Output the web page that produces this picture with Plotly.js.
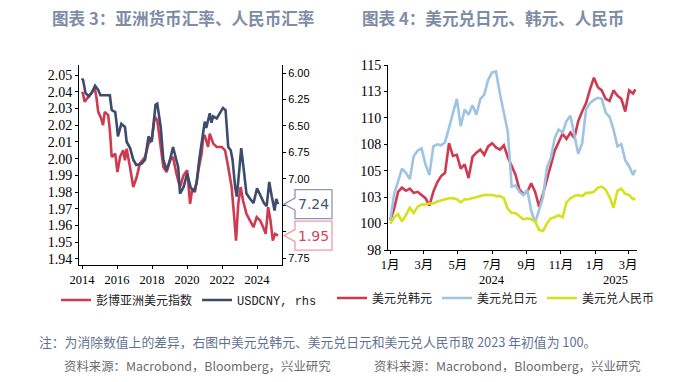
<!DOCTYPE html>
<html><head><meta charset="utf-8">
<script src="https://cdn.plot.ly/plotly-3.0.1.min.js"></script>
<style>html,body{margin:0;padding:0;background:#fff;}#chart{width:679px;height:382px;}</style>
</head><body><div id="chart"></div>
<script>
// ---------- Left chart data ----------
const asiaDates = ['2014-01-01','2014-01-20','2014-02-25','2014-04-15','2014-07-15','2014-09-25','2014-11-01','2014-12-05','2015-02-05','2015-03-15','2015-04-20','2015-07-01','2015-08-08','2015-09-12','2015-11-25','2016-01-10','2016-03-05','2016-05-10','2016-06-15','2016-07-20','2016-09-28','2016-12-05','2017-02-15','2017-04-20','2017-08-08','2017-10-20','2017-12-25','2018-03-01','2018-04-20','2018-06-15','2018-08-25','2018-11-01','2019-01-12','2019-03-15','2019-05-25','2019-08-08','2019-10-20','2020-01-05','2020-03-05','2020-04-20','2020-06-15','2020-08-25','2020-11-01','2020-12-05','2021-01-05','2021-03-15','2021-04-20','2021-07-01','2021-09-12','2021-12-25','2022-03-05','2022-05-10','2022-07-20','2022-09-12','2022-10-20','2022-12-05','2023-01-25','2023-03-15','2023-05-25','2023-08-08','2023-10-20','2023-12-25','2024-03-05','2024-05-10','2024-07-01','2024-08-20','2024-10-08','2024-11-25','2025-01-10','2025-03-14'];
const asiaIndex = [2.040,2.039,2.034,2.036,2.039,2.042,2.036,2.028,2.024,2.020,2.028,2.026,2.016,2.001,2.003,1.992,2.001,2.005,1.999,2.006,1.995,1.983,1.989,1.997,2.001,2.009,2.011,2.025,2.023,2.009,1.995,1.992,1.999,2.001,1.991,1.983,1.990,1.993,1.973,1.982,1.980,1.993,2.003,2.013,2.014,2.007,2.015,2.009,2.007,2.007,2.005,1.995,1.983,1.965,1.951,1.973,1.983,1.975,1.967,1.963,1.959,1.965,1.963,1.959,1.955,1.971,1.963,1.951,1.955,1.954];

const cnyDates = ['2014-01-01','2014-01-25','2014-03-15','2014-05-25','2014-07-20','2014-09-30','2014-12-05','2015-01-20','2015-04-20','2015-08-05','2015-09-12','2015-11-25','2016-01-01','2016-01-20','2016-04-01','2016-06-15','2016-07-20','2016-09-30','2016-12-05','2017-02-05','2017-05-25','2017-08-08','2017-10-20','2017-12-25','2018-03-15','2018-04-20','2018-07-01','2018-08-25','2018-11-01','2019-01-12','2019-03-15','2019-05-25','2019-07-01','2019-08-08','2019-10-20','2020-01-05','2020-03-15','2020-05-25','2020-07-20','2020-09-12','2020-11-25','2021-01-05','2021-02-05','2021-04-20','2021-05-25','2021-07-01','2021-09-12','2021-11-25','2022-01-20','2022-03-15','2022-05-10','2022-07-01','2022-08-08','2022-10-01','2022-11-05','2023-01-01','2023-02-05','2023-04-01','2023-05-25','2023-08-08','2023-10-20','2024-01-01','2024-03-15','2024-05-25','2024-07-20','2024-09-12','2024-11-05','2025-01-01','2025-02-05','2025-03-14'];
const usdcny = [6.05,6.07,6.19,6.22,6.19,6.12,6.16,6.21,6.21,6.21,6.35,6.37,6.51,6.60,6.48,6.51,6.65,6.71,6.82,6.87,6.86,6.82,6.60,6.65,6.30,6.29,6.51,6.82,6.92,6.82,6.70,6.82,6.89,7.14,7.08,6.95,7.08,7.12,7.04,6.82,6.60,6.46,6.52,6.38,6.47,6.41,6.43,6.37,6.33,6.35,6.70,6.73,6.82,7.08,7.17,6.89,6.71,6.92,7.14,7.19,7.23,7.09,7.17,7.23,7.26,7.03,7.17,7.30,7.19,7.24];

// ---------- Right chart data (2023 start = 100) ----------
const fxDates = ['2024-01-01','2024-01-08','2024-01-15','2024-01-22','2024-01-29','2024-02-05','2024-02-12','2024-02-19','2024-02-26','2024-03-04','2024-03-11','2024-03-18','2024-03-25','2024-04-01','2024-04-08','2024-04-15','2024-04-22','2024-04-29','2024-05-06','2024-05-13','2024-05-20','2024-05-27','2024-06-03','2024-06-10','2024-06-17','2024-06-24','2024-07-01','2024-07-08','2024-07-15','2024-07-22','2024-07-29','2024-08-05','2024-08-12','2024-08-19','2024-08-26','2024-09-02','2024-09-09','2024-09-16','2024-09-23','2024-09-30','2024-10-07','2024-10-14','2024-10-21','2024-10-28','2024-11-04','2024-11-11','2024-11-18','2024-11-25','2024-12-02','2024-12-09','2024-12-16','2024-12-23','2024-12-30','2025-01-06','2025-01-13','2025-01-20','2025-01-27','2025-02-03','2025-02-10','2025-02-17','2025-02-24','2025-03-03','2025-03-10','2025-03-14'];
const usdkrw = [100.3,101.4,103.0,103.4,103.1,103.3,102.9,103.0,102.7,102.4,101.7,103.0,103.9,104.5,104.8,107.6,106.4,106.5,105.2,105.6,104.3,106.3,106.7,107.0,106.5,107.3,107.6,107.2,107.0,107.4,106.3,105.4,104.6,103.2,102.8,103.0,103.8,103.0,101.6,102.8,104.2,105.5,106.9,107.7,108.5,108.0,108.6,108.1,109.7,110.6,111.4,112.7,113.8,112.9,112.6,111.8,111.6,112.6,112.1,111.8,110.6,112.6,112.3,112.7];
const usdjpy = [100.3,102.8,104.0,105.2,104.8,104.2,106.4,106.9,107.1,105.6,104.6,107.3,107.5,107.4,107.7,109.1,110.4,111.8,109.2,110.8,110.3,111.2,110.3,111.8,112.2,113.6,114.3,114.4,112.3,110.5,108.7,103.5,103.6,103.0,102.7,103.2,101.2,100.1,101.4,102.5,105.3,106.2,108.1,108.9,108.6,109.7,110.2,108.3,106.6,107.6,110.8,111.4,111.7,111.9,111.8,110.5,110.1,108.9,107.3,107.5,106.0,105.4,104.6,105.1];
const usdcnyIdx = [100.0,100.6,100.9,100.2,100.8,101.5,101.0,101.6,101.8,101.8,101.9,101.9,102.1,102.2,102.3,102.4,102.4,102.3,102.0,102.3,102.3,102.4,102.5,102.6,102.7,102.7,102.7,102.6,102.6,102.4,101.4,101.0,101.0,100.7,100.4,100.5,100.4,100.2,99.4,99.3,100.0,100.5,100.6,100.8,100.6,102.0,102.4,102.6,102.7,102.6,102.9,102.9,103.0,103.4,103.5,103.2,102.5,101.5,103.1,103.3,102.8,102.7,102.3,102.4];

// ---------- Tick labels ----------
const rightAxisTickVals = [6, 6.25, 6.5, 6.75, 7, 7.25, 7.5, 7.75];
const rightAxisTickText = ['6.00','6.25','6.50','6.75','7.00','','','7.75'];
const rightYTickVals = [97.5,100,102.5,105,107.5,110,112.5,115];
const rightYTickText = ['98','100','103','105','108','110','113','115'];
const monthTickVals = ['2024-01-01','2024-03-01','2024-05-01','2024-07-01','2024-09-01','2024-11-01','2025-01-01','2025-03-01'];
const monthTickText = ['1月','3月','5月','7月','9月','11月','1月','3月'];
const yearLabels = ['2024','2025'];
const yearLabelPos = ['2024-07-01','2025-02-07'];

// ---------- Layout helpers ----------
const W = 679, H = 382;
const px = x => x / W, py = y => 1 - y / H;
const RED = '#cf3a50', NAVY = '#3d4b6c', LBLUE = '#9ec3e3', YEL = '#d6e01c';
const serif = 'Liberation Serif, Times New Roman, Noto Sans CJK SC, serif';
const cjk = 'Noto Sans CJK SC, sans-serif';

const L_dom = [py(265), py(65)];
const L_yr = [1.9364, 2.056];
const L_y2r = [7.816, 5.924];
const toPaper = (v, r, d) => d[0] + (v - r[0]) / (r[1] - r[0]) * (d[1] - d[0]);

const lastCny = usdcny[usdcny.length - 1];
const lastAsia = asiaIndex[asiaIndex.length - 1];
const yCny = toPaper(lastCny, L_y2r, L_dom);
const yAsia = toPaper(lastAsia, L_yr, L_dom);

const traces = [
  {x: asiaDates, y: asiaIndex, type: 'scatter', mode: 'lines', name: '彭博亚洲美元指数',
   line: {color: RED, width: 2.6}, xaxis: 'x', yaxis: 'y', legend: 'legend'},
  {x: cnyDates, y: usdcny, type: 'scatter', mode: 'lines', name: 'USDCNY, rhs',
   line: {color: NAVY, width: 2.6}, xaxis: 'x', yaxis: 'y2', legend: 'legend'},
  {x: fxDates, y: usdkrw, type: 'scatter', mode: 'lines', name: '美元兑韩元',
   line: {color: RED, width: 2.6}, xaxis: 'x2', yaxis: 'y3', legend: 'legend2'},
  {x: fxDates, y: usdjpy, type: 'scatter', mode: 'lines', name: '美元兑日元',
   line: {color: LBLUE, width: 2.6}, xaxis: 'x2', yaxis: 'y3', legend: 'legend2'},
  {x: fxDates, y: usdcnyIdx, type: 'scatter', mode: 'lines', name: '美元兑人民币',
   line: {color: YEL, width: 2.6}, xaxis: 'x2', yaxis: 'y3', legend: 'legend2'}
];

const axCommon = {showgrid: false, zeroline: false, showline: true, linecolor: '#000', linewidth: 1,
  ticks: 'outside', ticklen: 3, tickcolor: '#000', tickwidth: 1};

const layout = {
  width: W, height: H, margin: {l: 0, r: 0, t: 0, b: 0},
  paper_bgcolor: '#fff', plot_bgcolor: '#fff',
  showlegend: true,
  xaxis: Object.assign({}, axCommon, {domain: [px(79), px(282)], anchor: 'y', type: 'date',
    range: ['2013-10-30', '2025-06-05'], tick0: '2014-01-01', dtick: 'M24', tickformat: '%Y',
    tickfont: {family: serif, size: 12.5, color: '#000'}}),
  yaxis: Object.assign({}, axCommon, {domain: L_dom, anchor: 'x', range: L_yr, dtick: 0.01, tick0: 1.94,
    tickformat: '.2f', tickfont: {family: serif, size: 14, color: '#000'}}),
  yaxis2: Object.assign({}, axCommon, {domain: L_dom, anchor: 'x', overlaying: 'y', side: 'right',
    range: L_y2r, tickmode: 'array', tickvals: rightAxisTickVals, ticktext: rightAxisTickText,
    tickfont: {family: 'Liberation Sans, sans-serif', size: 11, color: '#000'}}),
  xaxis2: Object.assign({}, axCommon, {domain: [px(388), px(637)], anchor: 'y3', type: 'date',
    range: ['2023-12-28', '2025-03-17'], tickmode: 'array', tickvals: monthTickVals, ticktext: monthTickText,
    tickfont: {family: serif, size: 12.5, color: '#000'}}),
  yaxis3: Object.assign({}, axCommon, {domain: [py(250), py(65)], anchor: 'x2', range: [97.5, 115],
    tickmode: 'array', tickvals: rightYTickVals, ticktext: rightYTickText,
    tickfont: {family: serif, size: 14, color: '#000'}}),
  legend: {orientation: 'h', x: px(56), y: py(300), xanchor: 'left', yanchor: 'middle',
    font: {family: 'Liberation Mono, Noto Sans CJK SC, monospace', size: 12, color: '#222'},
    bgcolor: 'rgba(0,0,0,0)', itemwidth: 30},
  legend2: {orientation: 'h', x: px(332), y: py(298), xanchor: 'left', yanchor: 'middle',
    font: {family: 'Liberation Mono, Noto Sans CJK SC, monospace', size: 12, color: '#222'},
    bgcolor: 'rgba(0,0,0,0)', itemwidth: 30},
  shapes: [
    {type: 'path', xref: 'paper', yref: 'paper', xsizemode: 'pixel', ysizemode: 'pixel',
     xanchor: px(284), yanchor: yCny, path: 'M0,0 L11,6 L11,14.5 L48,14.5 L48,-14.5 L11,-14.5 L11,-6 Z',
     line: {color: '#8d99b0', width: 1.3}, fillcolor: '#fff'},
    {type: 'path', xref: 'paper', yref: 'paper', xsizemode: 'pixel', ysizemode: 'pixel',
     xanchor: px(284), yanchor: yAsia, path: 'M0,0 L11,6 L11,14.5 L48,14.5 L48,-14.5 L11,-14.5 L11,-6 Z',
     line: {color: '#ee9ba8', width: 1.3}, fillcolor: '#fff'}
  ],
  annotations: [
    {xref: 'paper', yref: 'paper', x: px(50), y: py(18), xanchor: 'left', yanchor: 'middle', showarrow: false,
     text: '<b>图表 3：亚洲货币汇率、人民币汇率</b>', font: {family: cjk, size: 16.6, color: '#7d8da6'}},
    {xref: 'paper', yref: 'paper', x: px(360), y: py(18), xanchor: 'left', yanchor: 'middle', showarrow: false,
     text: '<b>图表 4：美元兑日元、韩元、人民币</b>', font: {family: cjk, size: 16.6, color: '#7d8da6'}},
    {xref: 'paper', yref: 'paper', x: px(313.5), y: yCny, xanchor: 'center', yanchor: 'middle', showarrow: false,
     text: lastCny.toFixed(2), font: {family: 'DejaVu Sans, sans-serif', size: 14, color: '#44526e'}},
    {xref: 'paper', yref: 'paper', x: px(313.5), y: yAsia, xanchor: 'center', yanchor: 'middle', showarrow: false,
     text: lastAsia.toFixed(2), font: {family: 'DejaVu Sans, sans-serif', size: 14, color: '#d2455b'}},
    {xref: 'x2', yref: 'paper', x: yearLabelPos[0], y: py(280), xanchor: 'center', yanchor: 'middle', showarrow: false,
     text: yearLabels[0], font: {family: serif, size: 12.5, color: '#000'}},
    {xref: 'x2', yref: 'paper', x: yearLabelPos[1], y: py(280), xanchor: 'center', yanchor: 'middle', showarrow: false,
     text: yearLabels[1], font: {family: serif, size: 12.5, color: '#000'}},
    {xref: 'paper', yref: 'paper', x: px(37), y: py(341), xanchor: 'left', yanchor: 'middle', showarrow: false,
     text: '注：为消除数值上的差异，右图中美元兑韩元、美元兑日元和美元兑人民币取 2023 年初值为 100。',
     font: {family: cjk, size: 12.8, color: '#5f7391'}},
    {xref: 'paper', yref: 'paper', x: px(62), y: py(366), xanchor: 'left', yanchor: 'middle', showarrow: false,
     text: '资料来源：Macrobond，Bloomberg，兴业研究', font: {family: cjk, size: 12.4, color: '#6b6b6b'}},
    {xref: 'paper', yref: 'paper', x: px(372), y: py(366), xanchor: 'left', yanchor: 'middle', showarrow: false,
     text: '资料来源：Macrobond，Bloomberg，兴业研究', font: {family: cjk, size: 12.4, color: '#6b6b6b'}}
  ]
};

Plotly.newPlot('chart', traces, layout, {staticPlot: true, displayModeBar: false});
</script>
</body></html>
